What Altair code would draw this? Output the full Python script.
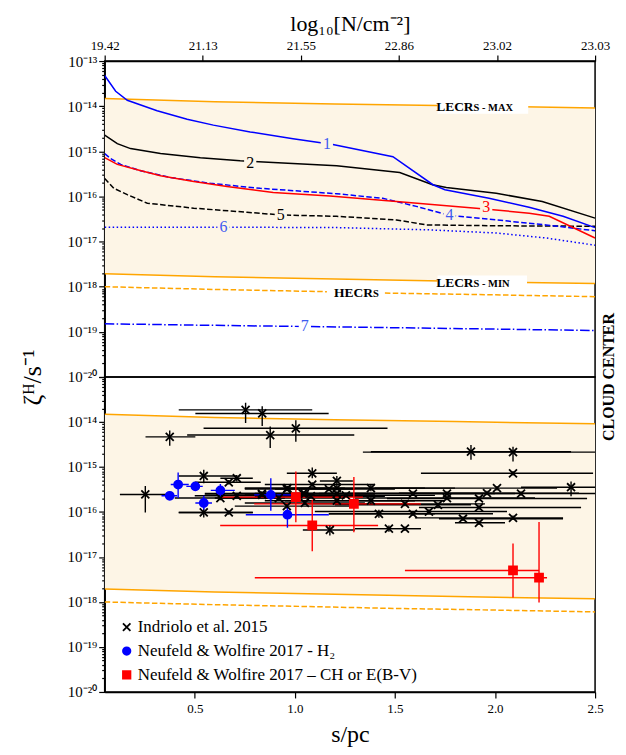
import altair as alt
import pandas as pd

FONT = "Liberation Serif"
BG = "#fdf5e6"
BLUE = "#0000ff"
LBLUE = "#3d5af0"
RED = "#ff0000"
ORANGE = "#ffa500"
BLACK = "#000000"
XMIN, XMAX = 0.05, 2.5
W, H1, H2 = 492, 317, 316

# ---------------- top panel: model curves (s [pc], log10 zeta) ----------------
c1_s = [0.05, 0.105, 0.163, 0.312, 0.462, 0.593, 0.777, 0.991, 1.19, 1.49, 1.69, 1.75, 1.97, 2.17, 2.34, 2.5]
c1_z = [-13.32, -13.67, -13.87, -14.10, -14.29, -14.42, -14.57, -14.72, -14.85, -15.12, -15.74, -15.85, -16.04, -16.24, -16.44, -16.69]
c2_s = [0.05, 0.113, 0.179, 0.329, 0.528, 0.727, 0.892, 1.209, 1.524, 1.688, 1.757, 2.006, 2.236, 2.5]
c2_z = [-14.64, -14.83, -14.94, -15.05, -15.14, -15.21, -15.25, -15.32, -15.47, -15.74, -15.80, -15.93, -16.11, -16.48]
c3_s = [0.05, 0.113, 0.213, 0.329, 0.495, 0.661, 0.892, 1.175, 1.508, 1.906, 2.171, 2.271, 2.5]
c3_z = [-15.14, -15.29, -15.41, -15.54, -15.67, -15.78, -15.91, -15.99, -16.11, -16.26, -16.37, -16.44, -16.92]
c4_s = [0.05, 0.08, 0.13, 0.229, 0.379, 0.578, 0.827, 1.209, 1.439, 1.607, 1.773, 2.006, 2.255, 2.5]
c4_z = [-15.05, -15.16, -15.29, -15.43, -15.58, -15.71, -15.82, -15.94, -16.04, -16.22, -16.42, -16.52, -16.63, -16.76]
c5_s = [0.05, 0.096, 0.163, 0.263, 0.495, 0.761, 0.927, 1.209, 1.508, 1.657, 2.006, 2.5]
c5_z = [-15.60, -15.82, -15.96, -16.15, -16.26, -16.35, -16.41, -16.44, -16.52, -16.63, -16.65, -16.66]
c6_s = [0.05, 0.6, 1.209, 1.673, 2.006, 2.255, 2.5]
c6_z = [-16.68, -16.68, -16.69, -16.74, -16.81, -16.92, -17.08]
c7_s = [0.05, 0.495, 1.209, 1.703, 2.5]
c7_z = [-18.82, -18.85, -18.89, -18.92, -18.97]

# cosmic-ray bands
band_s = [0.05, 0.6, 1.2, 1.8, 2.5]
lmax_z = [-13.83, -13.90, -13.95, -13.99, -14.04]
lmin_z = [-17.71, -17.78, -17.83, -17.88, -17.93]
hec_s = [0.05, 0.6, 1.16, 1.45, 2.0, 2.5]
hec_z = [-18.00, -18.06, -18.11, -18.14, -18.18, -18.22]
hec_seg = ["a", "a", "a", "b", "b", "b"]

# inline curve labels
lab_t = ["1", "2", "3", "4", "5", "6", "7"]
lab_s = [1.16, 0.777, 1.956, 1.773, 0.93, 0.644, 1.05]
lab_z = [-14.83, -15.27, -16.24, -16.42, -16.42, -16.68, -18.87]
lab_c = [LBLUE, BLACK, RED, LBLUE, BLACK, LBLUE, LBLUE]
lab_bg = [BG, BG, BG, BG, BG, BG, "#ffffff"]

# top axis (column density)
top_pos = [0.05, 0.54, 1.03, 1.52, 2.01, 2.5]
top_lab = ["19.42", "21.13", "21.55", "22.86", "23.02", "23.03"]

# ---------------- bottom panel: observations ----------------
# Indriolo et al. 2015
bl_s = [0.253, 0.375, 0.754, 0.837, 0.877, 1.005, 1.880, 2.090, 2.090, 2.380, 2.010, 2.130, 1.960, 1.920,
        1.760, 1.760, 1.590, 1.380, 1.380, 1.210, 1.210, 1.210, 1.210, 1.255, 1.550, 1.715, 1.920, 1.670,
        1.590, 1.420, 1.840, 2.090, 1.920, 1.470, 1.550, 1.175, 1.087, 1.087, 1.170, 0.963, 1.040, 0.835,
        1.080, 0.545, 0.710, 0.670, 0.628, 0.710, 0.545, 0.670, 0.837, 0.960, 0.920, 0.960, 1.050, 1.050]
bl_slo = [0.126, 0.254, 0.420, 0.503, 0.462, 0.544, 1.380, 1.340, 1.630, 2.130, 1.400, 1.700, 1.520, 1.460,
          1.250, 1.300, 1.120, 0.950, 0.950, 1.125, 0.750, 0.800, 0.850, 0.850, 1.050, 1.200, 1.620, 1.100,
          1.170, 1.170, 1.720, 1.600, 1.800, 1.300, 1.300, 1.040, 0.960, 0.850, 0.900, 0.750, 0.700, 0.550,
          0.800, 0.420, 0.628, 0.500, 0.400, 0.500, 0.420, 0.420, 0.550, 0.750, 0.600, 0.700, 0.750, 0.750]
bl_shi = [0.379, 0.503, 1.087, 1.169, 1.297, 1.463, 2.380, 2.500, 2.490, 2.500, 2.310, 2.500, 2.420, 2.460,
          2.100, 2.200, 2.000, 1.800, 1.750, 1.290, 1.650, 1.700, 1.600, 1.700, 1.950, 1.880, 2.430, 2.060,
          1.990, 1.700, 2.340, 2.340, 2.050, 1.630, 1.630, 1.300, 1.210, 1.400, 1.500, 1.250, 1.400, 1.200,
          1.450, 0.710, 0.790, 0.830, 0.950, 1.000, 0.790, 0.790, 1.100, 1.300, 1.250, 1.300, 1.400, 1.350]
bl_z = [-15.61, -14.33, -13.73, -13.81, -14.29, -14.14, -14.66, -14.67, -15.14, -15.45, -15.47, -15.59, -15.58, -15.70,
        -15.59, -15.69, -15.59, -15.47, -15.75, -15.31, -15.47, -15.59, -15.75, -15.63, -15.82, -15.84, -15.90, -15.99,
        -16.04, -16.04, -16.15, -16.13, -16.24, -16.37, -16.37, -16.40, -15.14, -15.39, -15.49, -15.47, -15.59, -15.59,
        -15.65, -15.20, -15.25, -15.34, -15.69, -15.64, -16.01, -16.01, -15.62, -15.49, -15.69, -15.87, -15.60, -15.80]
bl_zlo = [-15.42, -14.19, -13.57, -13.65, -14.10, -13.96, -14.51, -14.55, -15.09, -15.32, -15.42, -15.54, -15.53, -15.65,
          -15.54, -15.64, -15.54, -15.40, -15.68, -15.20, -15.42, -15.54, -15.70, -15.58, -15.77, -15.79, -15.85, -15.94,
          -15.99, -15.95, -16.10, -16.08, -16.19, -16.30, -16.32, -16.30, -15.01, -15.34, -15.44, -15.42, -15.54, -15.54,
          -15.60, -15.06, -15.18, -15.29, -15.64, -15.59, -15.92, -15.96, -15.57, -15.44, -15.64, -15.82, -15.55, -15.75]
bl_zhi = [-16.01, -14.53, -14.02, -14.09, -14.58, -14.44, -14.84, -14.88, -15.19, -15.65, -15.52, -15.64, -15.63, -15.75,
          -15.64, -15.74, -15.64, -15.54, -15.82, -15.42, -15.52, -15.64, -15.80, -15.68, -15.87, -15.89, -15.95, -16.04,
          -16.09, -16.13, -16.20, -16.18, -16.29, -16.44, -16.42, -16.52, -15.25, -15.44, -15.54, -15.52, -15.64, -15.64,
          -15.70, -15.36, -15.32, -15.39, -15.74, -15.69, -16.12, -16.06, -15.67, -15.54, -15.74, -15.92, -15.65, -15.85]

# Neufeld & Wolfire 2017 - H2
bu_s = [0.375, 0.417, 0.503, 0.545, 0.628, 0.880, 0.963]
bu_slo = [0.334, 0.380, 0.458, 0.503, 0.580, 0.797, 0.755]
bu_shi = [0.412, 0.470, 0.540, 0.586, 0.700, 1.005, 1.170]
bu_z = [-15.64, -15.39, -15.43, -15.80, -15.52, -15.62, -16.06]
bu_zlo = [-15.60, -15.12, -15.39, -15.64, -15.38, -15.25, -15.88]
bu_zhi = [-15.68, -15.69, -15.47, -15.95, -15.66, -15.97, -16.35]

# Neufeld & Wolfire 2017 - CH or E(B-V)
rd_s = [1.005, 1.087, 1.295, 2.090, 2.220]
rd_slo = [0.636, 0.627, 0.797, 1.550, 0.800]
rd_shi = [1.340, 1.416, 1.630, 2.220, 2.260]
rd_z = [-15.67, -16.30, -15.82, -17.30, -17.46]
rd_zlo = [-15.10, -15.73, -15.22, -16.70, -16.22]
rd_zhi = [-16.23, -16.87, -16.45, -17.90, -18.01]

SRC = ["Indriolo et al. 2015", "Neufeld & Wolfire 2017 - H\u2082",
       "Neufeld & Wolfire 2017 \u2013 CH or E(B-V)"]
# legend rows (position inside the lower panel)
leg_s = [0.16, 0.16, 0.16]
leg_ts = [0.215, 0.215, 0.215]
leg_z = [-18.56, -19.09, -19.62]

# ---------------- helpers ----------------
def p10(z):
    return [10.0 ** e for e in z]

SUP = {"-": "\u207b", "0": "\u2070", "1": "\u00b9", "2": "\u00b2", "3": "\u00b3", "4": "\u2074",
       "5": "\u2075", "6": "\u2076", "7": "\u2077", "8": "\u2078", "9": "\u2079"}

def sup(n):
    return "".join(SUP[c] for c in str(n))

E = "round(log(datum.value)/LN10)"
FR = f"abs(log(datum.value)/LN10 - {E})"

def ylab_expr(exps):
    parts = " : ".join(f"{E} == {e} ? '10{sup(e)}'" for e in exps)
    return f"{FR} > 0.01 ? '' : " + parts + " : ''"

yvals = []
for d in range(-20, -13):
    yvals.append(10.0 ** d)
    for k in range(2, 10):
        yvals.append(k * 10.0 ** d)
yvals.append(1e-13)

tick_cond = {"condition": {"test": f"{FR} > 0.01", "value": 3}, "value": 6}

xsc = alt.Scale(domain=[XMIN, XMAX], nice=False, zero=False)
ysc = alt.Scale(type="log", domain=[1e-20, 1e-13], nice=False)

mids = [(top_pos[i] + top_pos[i + 1]) / 2 for i in range(len(top_pos) - 1)]
top_expr = " : ".join(f"datum.value < {m} ? '{l}'" for m, l in zip(mids, top_lab[:-1])) + f" : '{top_lab[-1]}'"

xaxis_top = alt.Axis(orient="top", values=top_pos, labelExpr=top_expr, title="log\u2081\u2080[N/cm\u207b\u00b2]",
                     titleFontSize=22, labelFontSize=13, tickSize=6, labelPadding=3, titlePadding=4,
                     labelFlush=False, labelOverlap=False, labelBound=False)
xaxis_bot = alt.Axis(orient="bottom", values=[0.5, 1.0, 1.5, 2.0, 2.5], format=".1f", title="s/pc",
                     titleFontSize=24, labelFontSize=13, tickSize=6, labelPadding=5, titlePadding=7,
                     labelFlush=False, labelOverlap=False)
yaxis_top = alt.Axis(values=yvals, labelExpr=ylab_expr(list(range(-20, -12))), tickSize=tick_cond,
                     title="\u03b6\u1d34/s\u207b\u00b9", titleY=H1, titleFontSize=26, titlePadding=22,
                     labelFontSize=15, labelPadding=2, labelFlush=False, labelOverlap=False, labelBound=False)
yaxis_bot = alt.Axis(values=yvals, labelExpr=ylab_expr(list(range(-20, -13))), tickSize=tick_cond,
                     title=None, labelFontSize=15, labelPadding=2, labelFlush=False, labelOverlap=False,
                     labelBound=False)


def line_layer(s, z, color, dash, xaxis, yaxis, seg=None, width=1.5):
    df = pd.DataFrame({"s": s, "v": p10(z)})
    enc = dict(x=alt.X("s:Q", scale=xsc, axis=xaxis), y=alt.Y("v:Q", scale=ysc, axis=yaxis))
    if seg is not None:
        df["seg"] = seg
        enc["detail"] = "seg:N"
    props = dict(color=color, strokeWidth=width, clip=True)
    if dash:
        props["strokeDash"] = dash
    return alt.Chart(df).mark_line(**props).encode(**enc)


def band_layer(xaxis, yaxis):
    df = pd.DataFrame({"s": band_s, "v": p10(lmax_z), "v2": p10(lmin_z)})
    return alt.Chart(df).mark_area(color=BG, opacity=1, clip=True).encode(
        x=alt.X("s:Q", scale=xsc, axis=xaxis), y=alt.Y("v:Q", scale=ysc, axis=yaxis), y2="v2:Q")


DASH = [5.5, 2.4]
DOT = [1.5, 2.5]
DASHDOT = [9.6, 2.4, 1.5, 2.4]

# ---------------- top panel ----------------
XT, YT = xaxis_top, yaxis_top
top_layers = [
    band_layer(XT, YT),
    line_layer(band_s, lmax_z, ORANGE, None, XT, YT),
    line_layer(band_s, lmin_z, ORANGE, None, XT, YT),
    line_layer(hec_s, hec_z, ORANGE, DASH, XT, YT, seg=hec_seg),
    line_layer(c7_s, c7_z, BLUE, DASHDOT, XT, YT),
    line_layer(c6_s, c6_z, BLUE, DOT, XT, YT),
    line_layer(c5_s, c5_z, BLACK, DASH, XT, YT),
    line_layer(c4_s, c4_z, BLUE, DASH, XT, YT),
    line_layer(c3_s, c3_z, RED, None, XT, YT),
    line_layer(c2_s, c2_z, BLACK, None, XT, YT),
    line_layer(c1_s, c1_z, BLUE, None, XT, YT),
]

lab_df = pd.DataFrame({"s": lab_s, "v": p10(lab_z), "t": lab_t, "col": lab_c, "bg": lab_bg})
top_layers.append(alt.Chart(lab_df).mark_square(size=150, opacity=1, filled=True).encode(
    x=alt.X("s:Q", scale=xsc, axis=XT), y=alt.Y("v:Q", scale=ysc, axis=YT), color=alt.Color("bg:N", scale=None)))
top_layers.append(alt.Chart(lab_df).mark_text(font=FONT, fontSize=16, align="center", baseline="middle").encode(
    x=alt.X("s:Q", scale=xsc, axis=XT), y=alt.Y("v:Q", scale=ysc, axis=YT), text="t:N",
    color=alt.Color("col:N", scale=None)))

# white boxes behind the LECR labels
box_df = pd.DataFrame({"x1": [1.713, 1.713], "x2": [2.166, 2.160],
                       "y1": p10([-13.86, -17.75]), "y2": p10([-14.17, -18.04])})
top_layers.append(alt.Chart(box_df).mark_rect(color="#ffffff", opacity=1).encode(
    x=alt.X("x1:Q", scale=xsc, axis=XT), x2="x2:Q", y=alt.Y("y1:Q", scale=ysc, axis=YT), y2="y2:Q"))

# band labels (small caps built from two sizes)
big_df = pd.DataFrame({"s": [1.893, 1.893, 1.39], "v": p10([-14.10, -18.01, -18.23]),
                       "t": ["LECR", "LECR", "HECR"]})
small_df = pd.DataFrame({"s": [1.893, 1.893, 1.39], "v": p10([-14.10, -18.01, -18.23]),
                         "t": ["S - MAX", "S - MIN", "S"]})
top_layers.append(alt.Chart(big_df).mark_text(font=FONT, fontSize=13.5, fontWeight="bold", align="right",
                                              baseline="alphabetic", color=BLACK).encode(
    x=alt.X("s:Q", scale=xsc, axis=XT), y=alt.Y("v:Q", scale=ysc, axis=YT), text="t:N"))
top_layers.append(alt.Chart(small_df).mark_text(font=FONT, fontSize=10.5, fontWeight="bold", align="left",
                                                baseline="alphabetic", color=BLACK).encode(
    x=alt.X("s:Q", scale=xsc, axis=XT), y=alt.Y("v:Q", scale=ysc, axis=YT), text="t:N"))

# vertical side label
side_df = pd.DataFrame({"t": ["CLOUD CENTER"]})
top_layers.append(alt.Chart(side_df).mark_text(font=FONT, fontSize=16, fontWeight="bold", angle=270,
                                               align="center", baseline="middle", color=BLACK).encode(
    x=alt.value(W + 14), y=alt.value(H1), text="t:N"))

top = alt.layer(*top_layers).properties(width=W, height=H1)

# ---------------- bottom panel ----------------
XB, YB = xaxis_bot, yaxis_bot
obs = pd.DataFrame({
    "s": bl_s + bu_s + rd_s,
    "slo": bl_slo + bu_slo + rd_slo,
    "shi": bl_shi + bu_shi + rd_shi,
    "v": p10(bl_z + bu_z + rd_z),
    "vlo": p10(bl_zlo + bu_zlo + rd_zlo),
    "vhi": p10(bl_zhi + bu_zhi + rd_zhi),
    "src": [SRC[0]] * len(bl_s) + [SRC[1]] * len(bu_s) + [SRC[2]] * len(rd_s),
    "col": [BLACK] * len(bl_s) + [BLUE] * len(bu_s) + [RED] * len(rd_s),
})

hbar = alt.Chart(obs).mark_rule(strokeWidth=1.4, clip=True).encode(
    x=alt.X("slo:Q", scale=xsc, axis=XB), x2="shi:Q", y=alt.Y("v:Q", scale=ysc, axis=YB),
    color=alt.Color("col:N", scale=None))
vbar = alt.Chart(obs).mark_rule(strokeWidth=1.4, clip=True).encode(
    x=alt.X("s:Q", scale=xsc, axis=XB), y=alt.Y("vlo:Q", scale=ysc, axis=YB), y2="vhi:Q",
    color=alt.Color("col:N", scale=None))

XPATH = "M-1,-1L1,1M-1,1L1,-1"
shape_enc = alt.Shape("src:N", scale=alt.Scale(domain=SRC, range=[XPATH, "circle", "square"]), legend=None)
fill_enc = alt.Fill("src:N", scale=alt.Scale(domain=SRC, range=["transparent", BLUE, RED]), legend=None)
stroke_enc = alt.Stroke("src:N", scale=alt.Scale(domain=SRC, range=[BLACK, BLUE, RED]), legend=None)

pts = alt.Chart(obs).mark_point(size=64, strokeWidth=1.8, opacity=1, clip=True).encode(
    x=alt.X("s:Q", scale=xsc, axis=XB), y=alt.Y("v:Q", scale=ysc, axis=YB),
    shape=shape_enc, fill=fill_enc, stroke=stroke_enc)

# hand-built legend
leg_df = pd.DataFrame({"s": leg_s, "ts": leg_ts, "v": p10(leg_z), "src": SRC})
leg_sym = alt.Chart(leg_df).mark_point(size=56, strokeWidth=1.8, opacity=1).encode(
    x=alt.X("s:Q", scale=xsc, axis=XB), y=alt.Y("v:Q", scale=ysc, axis=YB),
    shape=shape_enc, fill=fill_enc, stroke=stroke_enc)
leg_txt = alt.Chart(leg_df).mark_text(font=FONT, fontSize=17, align="left", baseline="middle",
                                      color=BLACK).encode(
    x=alt.X("ts:Q", scale=xsc, axis=XB), y=alt.Y("v:Q", scale=ysc, axis=YB), text="src:N")

bottom = alt.layer(
    band_layer(XB, YB),
    line_layer(band_s, lmax_z, ORANGE, None, XB, YB),
    line_layer(band_s, lmin_z, ORANGE, None, XB, YB),
    line_layer(hec_s, hec_z, ORANGE, DASH, XB, YB),
    hbar, vbar, pts, leg_sym, leg_txt,
).properties(width=W, height=H2)

chart = alt.vconcat(top, bottom, spacing=0, bounds="flush").properties(
    padding={"left": 10, "top": 2, "right": 0, "bottom": 0}
).configure_view(stroke="black", strokeWidth=1.5).configure_axis(
    labelFont=FONT, titleFont=FONT, labelColor="black", titleColor="black", tickColor="black",
    domainColor="black", domainWidth=1.5, tickWidth=1.2, grid=False, titleFontWeight="normal"
)

chart.save("out.html", embed_options={"renderer": "svg", "actions": False})
